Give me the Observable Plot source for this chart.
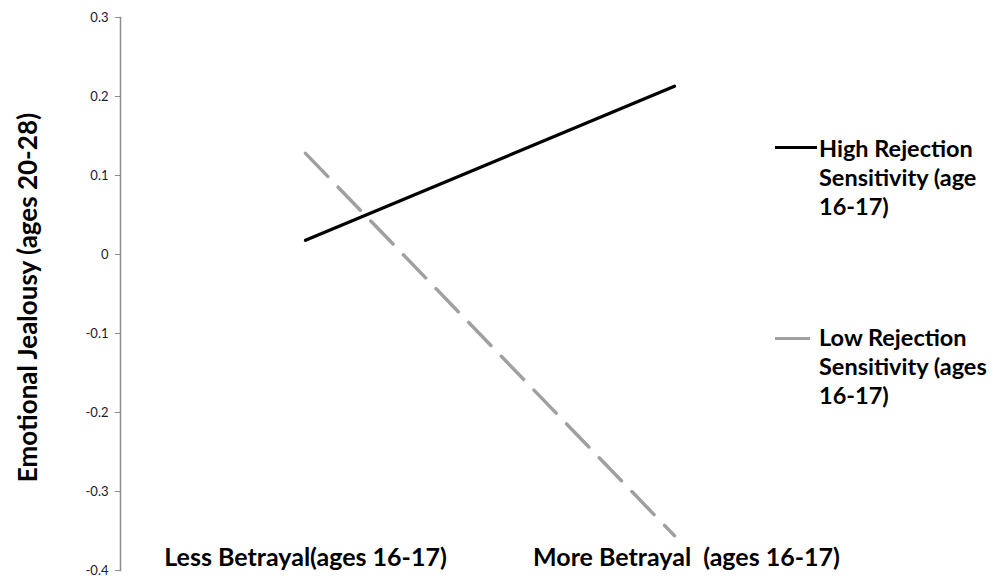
<!DOCTYPE html>
<html><head><meta charset="utf-8">
<script src="https://cdn.jsdelivr.net/npm/d3@7"></script>
<script src="https://cdn.jsdelivr.net/npm/@observablehq/plot@0.6"></script>
<style>
body{margin:0;background:#fff;}
#wrap{position:relative;width:993px;height:579px;font-family:Lato,"Open Sans",sans-serif;}
#wrap svg text{white-space:pre;}
.leg{position:absolute;left:775px;font-weight:bold;font-size:23.5px;line-height:29px;color:#000;}
.leg .sw{position:absolute;left:0;height:0;}
.leg .tx{position:absolute;left:44px;white-space:nowrap;}
</style></head><body><div id="wrap"></div>
<script>
const categories = ["Less Betrayal(ages 16-17)", "More Betrayal  (ages 16-17)"];
const highRS = [0.018, 0.213];
const lowRS = [0.128, -0.356];
const seriesNames = ["High Rejection Sensitivity (age 16-17)", "Low Rejection Sensitivity (ages 16-17)"];
const legendLines = [["High Rejection", "Sensitivity (age", "16-17)"], ["Low Rejection", "Sensitivity (ages", "16-17)"]];
const yTicks = [0.3, 0.2, 0.1, 0, -0.1, -0.2, -0.3, -0.4];
const yTitle = "Emotional Jealousy (ages 20-28)";

const data = [
  ...categories.map((c, i) => ({cat: c, v: highRS[i], s: seriesNames[0]})),
  ...categories.map((c, i) => ({cat: c, v: lowRS[i], s: seriesNames[1]}))
];

const xLabelStyle = {tickSize: 0, tickPadding: -22, fontSize: 25, fontWeight: "bold", label: null, fill: "#000"};

const chart = Plot.plot({
  width: 993, height: 579,
  marginTop: 17, marginBottom: 9, marginLeft: 120, marginRight: 135,
  style: {fontFamily: "Lato, 'Open Sans', sans-serif", background: "#fff"},
  x: {type: "point", domain: categories, padding: 0.5},
  y: {domain: [-0.4, 0.3]},
  marks: [
    Plot.frame({anchor: "left", stroke: "#8c8c8c", strokeWidth: 1.5}),
    Plot.axisY({ticks: yTicks, tickFormat: d => String(d), tickSize: 5, tickPadding: 7, fontSize: 13, label: null, stroke: "#8c8c8c", fill: "#1a1a2e"}),
    Plot.axisX({...xLabelStyle, ticks: [categories[0]]}),
    Plot.axisX({...xLabelStyle, ticks: [categories[1]], dx: 12}),
    Plot.text([yTitle], {frameAnchor: "left", textAnchor: "middle", rotate: -90, dx: -92, dy: 3.5, fontSize: 26, fontWeight: "bold", fill: "#000"}),
    Plot.line(data.filter(d => d.s === seriesNames[1]), {x: "cat", y: "v", stroke: "#a0a0a0", strokeWidth: 3.5, strokeDasharray: "32,15"}),
    Plot.line(data.filter(d => d.s === seriesNames[0]), {x: "cat", y: "v", stroke: "#000", strokeWidth: 3.2})
  ]
});
const wrap = document.getElementById("wrap");
wrap.appendChild(chart);

const legTop = [134, 323];
const swTop = [12, 14];
const swColor = ["#000", "#a0a0a0"];
const swWidth = [42, 35];
legendLines.forEach((lines, i) => {
  const g = document.createElement("div");
  g.className = "leg";
  g.style.top = legTop[i] + "px";
  const sw = document.createElement("div");
  sw.className = "sw";
  sw.style.top = swTop[i] + "px";
  sw.style.width = swWidth[i] + "px";
  sw.style.borderTop = "3.5px solid " + swColor[i];
  g.appendChild(sw);
  const tx = document.createElement("div");
  tx.className = "tx";
  tx.innerHTML = lines.join("<br>");
  g.appendChild(tx);
  wrap.appendChild(g);
});
</script>
</body></html>
